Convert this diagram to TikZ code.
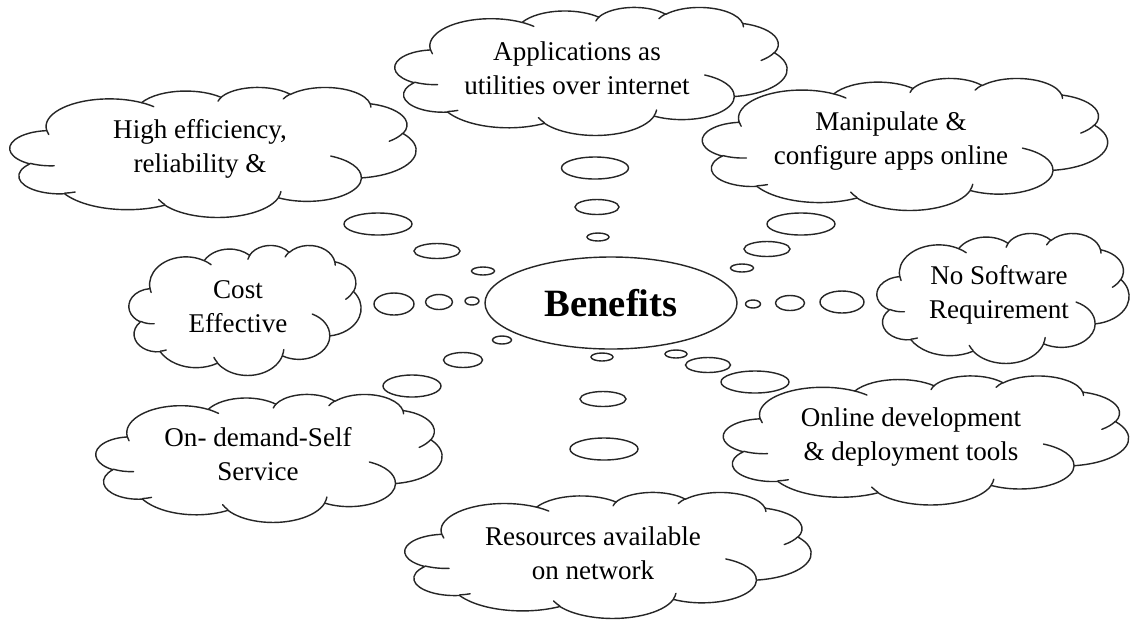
\documentclass[tikz,border=0pt]{standalone}
\usepackage{fontspec}
\setmainfont{Liberation Serif}
\usetikzlibrary{shapes.geometric}
\tikzset{
  ln/.style={line width=0.8pt, draw=black!85},
  bub/.style n args={2}{ellipse, ln, minimum width=#1*0.02cm,
    minimum height=#2*0.02cm, inner sep=0pt},
  txt/.style={align=center, inner sep=0pt, font=\fontsize{15.4pt}{19.3pt}\selectfont},
}
% elliptical arc given by "visual" start angle and sweep (DrawingML arcTo)
\newcommand\wcarc[4]{%
  \pgfmathsetmacro\wcta{atan2(#1*sin(#3), #2*cos(#3))}%
  \pgfmathsetmacro\wctb{atan2(#1*sin(#3+#4), #2*cos(#3+#4))}%
  \pgfmathsetmacro\wctd{mod(\wctb-\wcta+720,360)}%
  \pgfmathsetmacro\wcte{\wcta+\wctd}%
  \pgfpatharcaxes{\wcta}{\wcte}{\pgfpointxy{#1}{0}}{\pgfpointxy{0}{#2}}}
% cloud: centre x, centre y, width, height (pixels)
\newcommand\wordcloud[4]{%
  \begin{scope}[shift={(#1-#3/2,#2-#4/2)}, xscale=#3/432, yscale=#4/432]
  \pgfsetlinewidth{0.8pt}\pgfsetstrokecolor{black!85}\pgfsetfillcolor{white}%
  \pgfsetroundjoin\pgfsetroundcap
  \pgfpathmoveto{\pgfpointxy{39.00}{143.70}}%
  \wcarc{67.53}{91.90}{-190.48748}{123.78053}%
  \wcarc{53.33}{72.67}{-144.10238}{89.94523}%
  \wcarc{43.65}{59.45}{-145.80792}{99.72302}%
  \wcarc{48.57}{65.95}{-130.98607}{117.24173}%
  \wcarc{53.33}{72.73}{-78.70888}{109.02692}%
  \wcarc{67.75}{92.20}{-46.26725}{130.269}%
  \wcarc{57.85}{78.67}{0.62502}{114.03333}%
  \wcarc{67.52}{92.15}{22.4516}{115.17255}%
  \wcarc{77.20}{105.43}{66.24263}{75.71102}%
  \wcarc{43.60}{59.18}{-274.94208}{146.73557}%
  \wcarc{43.45}{59.45}{-246.8285}{152.51885}%
  \pgfpathclose
  \pgfusepath{fill,stroke}%
  \pgfpathmoveto{\pgfpointxy{46.93}{261.77}}\wcarc{43.45}{59.45}{86.742}{26.4295}%
  \pgfpathmoveto{\pgfpointxy{69.28}{348.99}}\wcarc{43.60}{59.18}{73.61047}{11.44747}%
  \pgfpathmoveto{\pgfpointxy{164.78}{390.90}}\wcarc{67.52}{92.15}{137.62415}{14.0811}%
  \pgfpathmoveto{\pgfpointxy{288.27}{347.51}}\wcarc{67.52}{92.15}{6.45327}{15.99835}%
  \pgfpathmoveto{\pgfpointxy{341.29}{229.54}}\wcarc{57.85}{78.67}{-70.29235}{70.91737}%
  \pgfpathmoveto{\pgfpointxy{417.98}{153.54}}\wcarc{53.33}{72.73}{30.31803}{27.7515}%
  \pgfpathmoveto{\pgfpointxy{383.24}{54.26}}\wcarc{48.57}{65.95}{-13.74433}{14.8589}%
  \pgfpathmoveto{\pgfpointxy{290.78}{39.52}}\wcarc{48.57}{65.95}{-149.18145}{18.19537}%
  \pgfpathmoveto{\pgfpointxy{221.41}{47.20}}\wcarc{43.65}{59.45}{-163.49427}{17.68635}%
  \pgfpathmoveto{\pgfpointxy{140.00}{51.92}}\wcarc{67.53}{91.90}{-66.70695}{12.31935}%
  \pgfpathmoveto{\pgfpointxy{41.27}{157.89}}\wcarc{67.53}{91.90}{157.65435}{11.85817}%
  \pgfusepath{stroke}%
  \end{scope}}
\begin{document}
\begin{tikzpicture}[x=0.02cm,y=-0.02cm]
\fill[white] (0,0) rectangle (1133,620);
\useasboundingbox (0,0) rectangle (1133,620);
% clouds
\wordcloud{591}{71}{392}{128}
\wordcloud{213}{152}{406}{130}
\wordcloud{905}{144}{405}{132}
\wordcloud{245}{310}{232}{130}
\wordcloud{1003}{298}{252}{130}
\wordcloud{269}{458}{346}{128}
\wordcloud{926}{440}{405}{129}
\wordcloud{608}{555}{406}{126}
% centre
\node[bub={252}{92}, font=\fontsize{22pt}{26pt}\selectfont\bfseries] (ben) at (611,303) {Benefits};
% texts
\node[txt] (t1) at (577,68) {Applications as\\utilities over internet};
\node[txt] (t2) at (200,149) {High efficiency,\\reliability \&};
\node[txt] (t3) at (891,141) {Manipulate \&\\configure apps online};
\node[txt] (t4) at (238,307) {Cost\\Effective};
\node[txt] (t5) at (999,295) {No Software\\Requirement};
\node[txt] (t6) at (258,454) {On- demand-Self\\Service};
\node[txt] (t7) at (911,437) {Online development\\\& deployment tools};
\node[txt] (t8) at (593,553) {Resources available\\on network};
% bubbles: top
\node[bub={67}{22}] (a1) at (595,168) {};
\node[bub={44}{15}] (a2) at (597,207) {};
\node[bub={22}{8}]  (a3) at (598,237) {};
% upper left
\node[bub={68}{22}] (b1) at (378,224) {};
\node[bub={46}{15}] (b2) at (437,251) {};
\node[bub={23}{8}]  (b3) at (483,271) {};
% left
\node[bub={40}{22}] (d1) at (394,304) {};
\node[bub={27}{15}] (d2) at (439,302) {};
\node[bub={14}{8}]  (d3) at (472,301) {};
% lower left
\node[bub={19}{8}]  (e1) at (502,340) {};
\node[bub={39}{15}] (e2) at (463,360) {};
\node[bub={58}{22}] (e3) at (412,386) {};
% bottom
\node[bub={22}{8}]  (f1) at (602,357) {};
\node[bub={46}{15}] (f2) at (603,399) {};
\node[bub={68}{22}] (f3) at (604,449) {};
% lower right
\node[bub={22}{8}]  (g1) at (676,354) {};
\node[bub={45}{15}] (g2) at (708,365) {};
\node[bub={68}{22}] (g3) at (755,382) {};
% right
\node[bub={15}{8}]  (h1) at (753,304) {};
\node[bub={29}{15}] (h2) at (790,303) {};
\node[bub={44}{22}] (h3) at (842,302) {};
% upper right
\node[bub={23}{8}]  (k1) at (742,268) {};
\node[bub={46}{15}] (k2) at (767,249) {};
\node[bub={68}{22}] (k3) at (801,224) {};
\end{tikzpicture}
\end{document}
